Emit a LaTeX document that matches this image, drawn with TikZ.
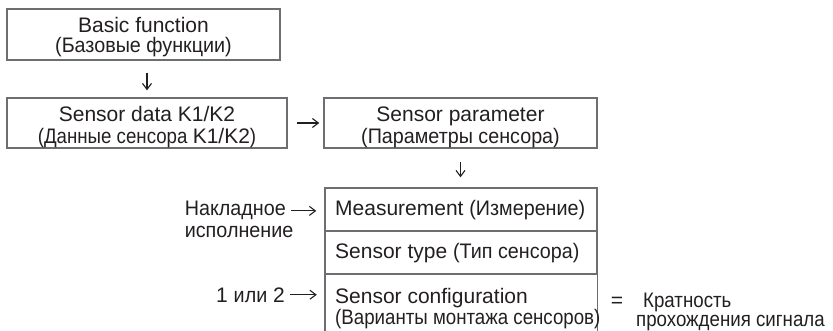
\documentclass[tikz,border=0pt]{standalone}
\usepackage{fontspec}
\setmainfont{Liberation Sans}
\newfontfamily\cyr[FakeStretch=0.94]{Liberation Sans}
\newfontfamily\cyrn[FakeStretch=0.89]{Liberation Sans}
\usetikzlibrary{arrows.meta,calc}
\definecolor{ink}{HTML}{231F20}
\definecolor{frame}{HTML}{6D6E71}
\begin{document}
\begin{tikzpicture}[x=1pt,y=-1pt,
  box/.style={draw=frame, line width=1.4pt, rectangle, inner sep=0pt},
  txt/.style={inner sep=0pt, text=ink, font=\fontsize{21}{23}\selectfont},
  arr/.style={draw=ink, line width=1.1pt, -{Straight Barb[length=6pt,width=9pt]}}]
\useasboundingbox (0,0) rectangle (833,331);

% boxes
\node[box, minimum width=273pt, minimum height=51pt] (top) at (143.5,34.5) {};
\node[box, minimum width=280pt, minimum height=50pt] (data) at (147,123) {};
\node[box, minimum width=273pt, minimum height=50pt] (param) at (460.5,123) {};
\node[box, minimum width=272pt, minimum height=43pt] (meas) at (461,209.5) {};
\node[box, minimum width=272pt, minimum height=43pt] (type) at (461,252.5) {};
\node[inner sep=0pt, minimum width=272pt, minimum height=57pt] (conf) at (461,302.5) {};
\draw[draw=frame, line width=1.4pt] (conf.south west) -- (conf.north west) -- (conf.north east) -- (conf.south east);

% box texts
\node[txt, anchor=base] (t1a) at (143.5,32.5) {Basic function};
\node[txt, anchor=base] (t1b) at (143.5,53) {\cyr (Базовые функции)};
\node[txt, anchor=base] (t2a) at (147,122) {Sensor data K1/K2};
\node[txt, anchor=base] (t2b) at (147,144) {{\cyrn (Данные сенсора }K1/K2{\cyrn )}};
\node[txt, anchor=base] (t3a) at (460.5,122) {Sensor parameter};
\node[txt, anchor=base] (t3b) at (460.5,144) {\cyr (Параметры сенсора)};
\node[txt, anchor=base west] (t4) at (335,216) {Measurement {\cyr (Измерение)}};
\node[txt, anchor=base west] (t5) at (335,259) {Sensor type {\cyr (Тип сенсора)}};
\node[txt, anchor=base west] (t6a) at (335,304) {Sensor configuration};
\node[txt, anchor=base west] (t6b) at (335,324) {\cyrn (Варианты монтажа сенсоров)};

% side labels
\node[txt, anchor=base east] (nak1) at (286,216) {\cyr Накладное};
\node[txt, anchor=base west] (nak2) at ($(nak1.base west)+(0,22)$) {\cyr исполнение};
\node[txt, anchor=base east] (one) at (285,302) {1 {\cyr или} 2};
\node[txt, anchor=base] (eq) at (617,307) {=};
\node[txt, anchor=base west] (kr1) at (643,307) {\cyrn Кратность};
\node[txt, anchor=base west] (kr2) at (636,326) {\cyrn прохождения сигнала};

% connectors
\draw[arr, shorten <=12pt, shorten >=7pt] (top.south -| data.north) -- (data.north);
\draw[arr, shorten <=9pt, shorten >=4pt] (data.east) -- (param.west);
\draw[arr, shorten <=13pt, shorten >=10pt] (param.south) -- (param.south |- meas.north);
\draw[arr, shorten <=5pt, shorten >=8pt] (nak1.east) -- (nak1.east -| meas.west);
\draw[arr, shorten <=5pt, shorten >=8pt] (one.east) -- (one.east -| conf.west);
\end{tikzpicture}
\end{document}
